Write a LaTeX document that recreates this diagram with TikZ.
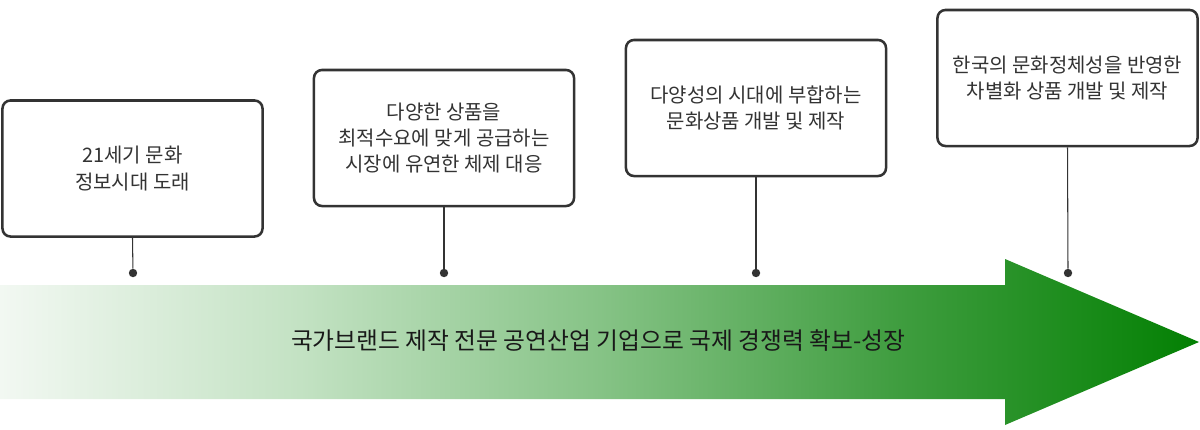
\documentclass[tikz,border=0pt]{standalone}
\usepackage{fontspec}
\newfontfamily\krfont{Noto Sans CJK KR}
\usetikzlibrary{positioning}

\definecolor{boxline}{HTML}{333333}
\definecolor{fadeA}{HTML}{F2F8F2}
\definecolor{fadeB}{HTML}{C3E2C3}
\definecolor{fadeC}{HTML}{86C386}
\definecolor{fadeD}{HTML}{3F9D3F}
\definecolor{fadeE}{HTML}{038003}
\pgfdeclarehorizontalshading{greenfade}{100bp}{color(0bp)=(fadeA); color(25bp)=(fadeA); color(37.5bp)=(fadeB); color(50bp)=(fadeC); color(62.5bp)=(fadeD); color(75bp)=(fadeE); color(100bp)=(fadeE)}

\tikzset{
	stagebox/.style={draw=boxline, line width=1.8pt, rounded corners=0.2cm, fill=white,
		minimum width=6.5cm, minimum height=3.4cm, inner sep=0pt, align=center,
		text=boxline, font=\krfont\fontsize{14.2pt}{18.8pt}\selectfont},
	pin/.style={circle, fill=boxline, inner sep=0pt, minimum size=0.21cm},
	pinline/.style={draw=boxline, line width=0.75pt}
}

\begin{document}
\begin{tikzpicture}[x=0.025cm, y=-0.025cm]
	\useasboundingbox (0,0) rectangle (1200,429);

	% Growth Arrow
	\shade[shading=greenfade] (0,285) -- (1005,285) -- (1005,259) -- (1199,342)
		-- (1005,425) -- (1005,399) -- (0,399) -- cycle;
	\node[text=black!90] (goal) at (598,341) {\krfont\fontsize{16.9pt}{20pt}\selectfont 국가브랜드 제작 전문 공연산업 기업으로 국제 경쟁력 확보-성장};

	% Stage Boxes
	\node[stagebox] (era) at (132.5,168.5) {21세기 문화\\정보시대 도래};
	\node[stagebox] (market) at (444,138) {다양한 상품을\\최적수요에 맞게 공급하는\\시장에 유연한 체제 대응};
	\node[stagebox] (variety) at (756,108) {다양성의 시대에 부합하는\\문화상품 개발 및 제작};
	\node[stagebox] (identity) at (1067.5,78) {한국의 문화정체성을 반영한\\차별화 상품 개발 및 제작};

	% Pins on the arrow
	\node[pin] (eraPin) at (133,273) {};
	\node[pin] (marketPin) at (444,273) {};
	\node[pin] (varietyPin) at (756,273) {};
	\node[pin] (identityPin) at (1068,273) {};

	% Pin Lines
	\draw[pinline] (era.south) -- (eraPin);
	\draw[pinline] (market.south) -- (marketPin);
	\draw[pinline] (variety.south) -- (varietyPin);
	\draw[pinline] (identity.south) -- (identityPin);
\end{tikzpicture}
\end{document}
